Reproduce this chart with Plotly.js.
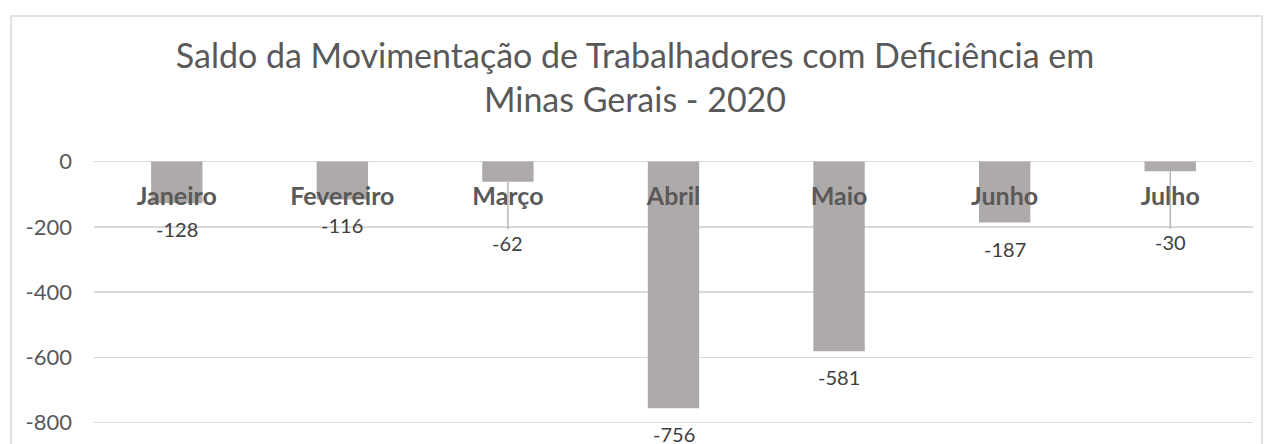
<!DOCTYPE html>
<html>
<head>
<meta charset="utf-8">
<script src="https://cdn.plot.ly/plotly-3.0.1.min.js"></script>
<style>
  html, body { margin: 0; padding: 0; background: #ffffff; }
  #chart { width: 1270px; height: 444px; }
</style>
</head>
<body>
<div id="chart"></div>
<script>
// ---- data ----
const months = ["Janeiro", "Fevereiro", "Março", "Abril", "Maio", "Junho", "Julho"];
const saldo = [-128, -116, -62, -756, -581, -187, -30];
const yTicks = [0, -200, -400, -600, -800];
const chartTitle = "Saldo da Movimentação de Trabalhadores com Deficiência em<br>Minas Gerais - 2020";

// ---- style ----
const barColor = "#aeaaaa";
const gridColor = "#d9d9d9";
const textColor = "#595959";
const labelColor = "#404040";
const fontFamily = "Lato, 'Open Sans', sans-serif";
const yRange = [-804, 20];
// labels that were moved away from the bar end, with a leader line (pixel offset)
const movedLabelOffset = { "Março": 61, "Julho": 71 };
const normalLabelShift = -26;

const trace = {
  type: "bar",
  x: months,
  y: saldo,
  marker: { color: barColor, line: { width: 0 } },
  hoverinfo: "x+y",
  cliponaxis: false
};

const annotations = months.map((m, i) => {
  const base = {
    x: m, y: saldo[i], xref: "x", yref: "y",
    text: String(saldo[i]),
    font: { family: fontFamily, size: 20, color: labelColor },
    xanchor: "center", yanchor: "middle"
  };
  if (movedLabelOffset[m] !== undefined) {
    return Object.assign(base, {
      showarrow: true, arrowhead: 0, arrowwidth: 1.2, arrowcolor: "#a6a6a6",
      ax: 0, ay: movedLabelOffset[m]
    });
  }
  return Object.assign(base, { showarrow: false, yshift: normalLabelShift });
});

const layout = {
  width: 1270,
  height: 444,
  margin: { l: 94, r: 17, t: 155, b: 20 },
  paper_bgcolor: "#ffffff",
  plot_bgcolor: "#ffffff",
  showlegend: false,
  bargap: 0.69,
  title: {
    text: chartTitle,
    font: { family: fontFamily, size: 34, color: textColor, weight: 400 },
    xref: "container", x: 0.5, xanchor: "center",
    yref: "container", y: 1 - 68 / 444, yanchor: "top"
  },
  xaxis: {
    type: "category",
    side: "bottom",
    anchor: "free",
    // category axis sits at the value 0 line, as in the original chart
    position: (0 - yRange[0]) / (yRange[1] - yRange[0]),
    ticklabelstandoff: 17,
    showgrid: false,
    showline: false,
    zeroline: false,
    ticks: "",
    tickfont: { family: fontFamily, size: 25, color: textColor, weight: "bold" },
    fixedrange: true
  },
  yaxis: {
    range: yRange,
    tickvals: yTicks,
    ticktext: yTicks.map(String),
    showgrid: true,
    gridcolor: gridColor,
    gridwidth: 1.5,
    zeroline: true,
    zerolinecolor: gridColor,
    zerolinewidth: 1.5,
    showline: false,
    ticks: "",
    ticklabelstandoff: 21,
    tickfont: { family: fontFamily, size: 22, color: textColor },
    fixedrange: true
  },
  annotations: annotations,
  shapes: [{
    type: "rect", xref: "paper", yref: "paper",
    x0: (11 - 94) / 1159, x1: (1262 - 94) / 1159,
    y0: -0.2, y1: 1 + (155 - 16) / 269,
    line: { color: "#d9d9d9", width: 1.5 },
    fillcolor: "rgba(0,0,0,0)",
    layer: "below"
  }]
};

Plotly.newPlot("chart", [trace], layout, { displayModeBar: false, staticPlot: true });
</script>
</body>
</html>
